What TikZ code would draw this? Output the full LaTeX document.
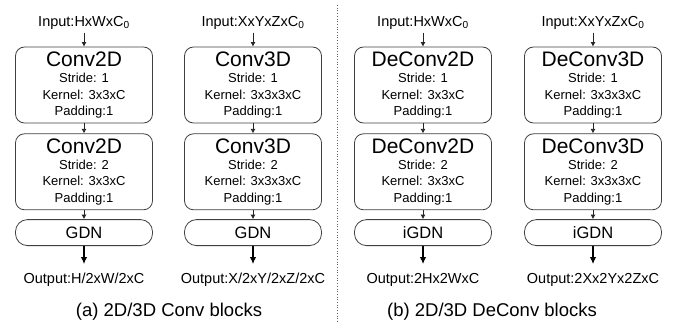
\documentclass[tikz,border=0pt]{standalone}
\usepackage{fontspec}
\setmainfont{Liberation Sans}
\usetikzlibrary{arrows.meta}
\usetikzlibrary{positioning}
\tikzset {
  layer node/.style = {
    draw = black!75,
    line width = 0.8pt,
    minimum width = 137pt,
    inner sep = 0
  },
  % convolution block
  conv/.style = {
    layer node,
    rounded corners = 9pt,
    minimum height = 76pt,
    align = center,
    font = \fontsize{13}{16.3}\selectfont
  },
  % normalisation block
  norm/.style = {
    layer node,
    rounded corners = 12pt,
    minimum height = 26pt,
    font = \fontsize{16.5}{18}\selectfont
  },
  % input and output shapes
  io/.style = {
    font = \fontsize{14.5}{16}\selectfont,
    inner sep = 0
  },
  caption/.style = {
    font = \fontsize{18.5}{20}\selectfont
  },
  % thin arrow between blocks
  arr/.style = {
    draw = black!85,
    line width = 0.8pt,
    -{Latex[length=4.5pt, width=5pt]}
  },
  % arrow to the output
  big arr/.style = {
    draw = black,
    line width = 1.1pt,
    -{Latex[length=7pt, width=6.5pt]}
  },
  sep/.style = {
    draw = black!60,
    dotted,
    line width = 0.7pt
  },
  node distance = 10pt
}
\newcommand{\blocktitle}[1]{{\fontsize{21}{21}\selectfont #1}}

\begin{document}
\begin{tikzpicture}[x=1pt, y=-1pt]
    \useasboundingbox (0,0) rectangle (683,324);

    % (a) Conv2D
    \node[conv] (c1a) at (84,85) {\blocktitle{Conv2D}\\Stride: 1\\Kernel: 3x3xC\\Padding:1};
    \node[conv] (c1b) [below=of c1a] {\blocktitle{Conv2D}\\Stride: 2\\Kernel: 3x3xC\\Padding:1};
    \node[norm] (gdn1) [below=9pt of c1b] {GDN};
    \node[io] (in1) [above=17pt of c1a] {Input:HxWxC\textsubscript{0}};
    \node[io] (out1) [below=27pt of gdn1] {Output:H/2xW/2xC};

    % (a) Conv3D
    \node[conv] (c2a) at (253,85) {\blocktitle{Conv3D}\\Stride: 1\\Kernel: 3x3x3xC\\Padding:1};
    \node[conv] (c2b) [below=of c2a] {\blocktitle{Conv3D}\\Stride: 2\\Kernel: 3x3x3xC\\Padding:1};
    \node[norm] (gdn2) [below=9pt of c2b] {GDN};
    \node[io] (in2) [above=17pt of c2a] {Input:XxYxZxC\textsubscript{0}};
    \node[io] (out2) [below=27pt of gdn2] {Output:X/2xY/2xZ/2xC};

    % (b) DeConv2D
    \node[conv] (c3a) at (423,85) {\blocktitle{DeConv2D}\\Stride: 1\\Kernel: 3x3xC\\Padding:1};
    \node[conv] (c3b) [below=of c3a] {\blocktitle{DeConv2D}\\Stride: 2\\Kernel: 3x3xC\\Padding:1};
    \node[norm] (gdn3) [below=9pt of c3b] {iGDN};
    \node[io] (in3) [above=17pt of c3a] {Input:HxWxC\textsubscript{0}};
    \node[io] (out3) [below=27pt of gdn3] {Output:2Hx2WxC};

    % (b) DeConv3D
    \node[conv] (c4a) at (593,85) {\blocktitle{DeConv3D}\\Stride: 1\\Kernel: 3x3x3xC\\Padding:1};
    \node[conv] (c4b) [below=of c4a] {\blocktitle{DeConv3D}\\Stride: 2\\Kernel: 3x3x3xC\\Padding:1};
    \node[norm] (gdn4) [below=9pt of c4b] {iGDN};
    \node[io] (in4) [above=17pt of c4a] {Input:XxYxZxC\textsubscript{0}};
    \node[io] (out4) [below=27pt of gdn4] {Output:2Xx2Yx2ZxC};

    % captions
    \node[caption] (cap a) at (169,312) {(a) 2D/3D Conv blocks};
    \node[caption] (cap b) at (492,312) {(b) 2D/3D DeConv blocks};

    % arrows
    \draw[arr, shorten <=3pt] (in1) -- (c1a);
    \draw[arr] (c1a) -- (c1b);
    \draw[arr] (c1b) -- (gdn1);
    \draw[big arr, shorten >=9pt] (gdn1) -- (out1);

    \draw[arr, shorten <=3pt] (in2) -- (c2a);
    \draw[arr] (c2a) -- (c2b);
    \draw[arr] (c2b) -- (gdn2);
    \draw[big arr, shorten >=9pt] (gdn2) -- (out2);

    \draw[arr, shorten <=3pt] (in3) -- (c3a);
    \draw[arr] (c3a) -- (c3b);
    \draw[arr] (c3b) -- (gdn3);
    \draw[big arr, shorten >=9pt] (gdn3) -- (out3);

    \draw[arr, shorten <=3pt] (in4) -- (c4a);
    \draw[arr] (c4a) -- (c4b);
    \draw[arr] (c4b) -- (gdn4);
    \draw[big arr, shorten >=9pt] (gdn4) -- (out4);

    % separator
    \draw[sep] (337,5) -- (337,324);
\end{tikzpicture}
\end{document}
